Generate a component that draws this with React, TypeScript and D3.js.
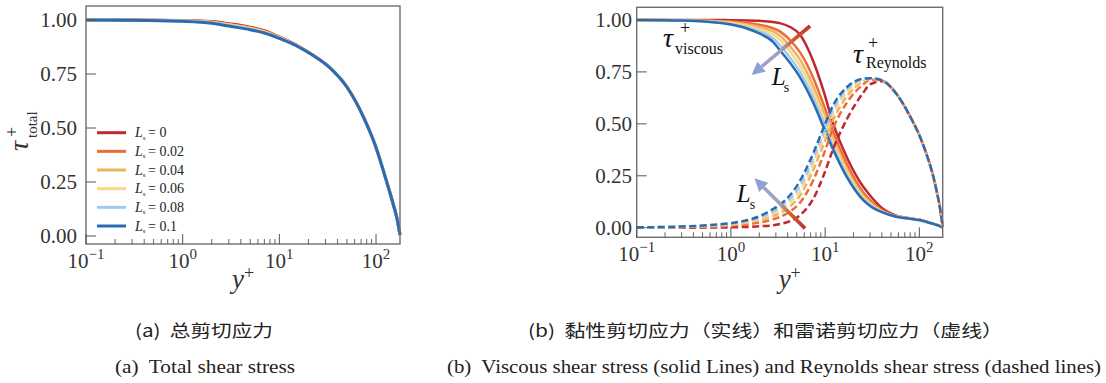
import * as d3 from 'd3';

const W = 1106;
const H = 383;

// slip length legend + colours (Ls = 0 ... 0.1)
const LS_LABELS = ['0', '0.02', '0.04', '0.06', '0.08', '0.1'];
const COLORS = ['#c0282f', '#f06a35', '#e8b660', '#fcd68a', '#9fcbf2', '#2b6cb0'];

// (a) total shear stress
const TOTAL_YPLUS = [0.1, 0.3, 1, 2, 3, 5, 7, 10, 15, 22, 33, 50, 74, 100, 128, 150, 165, 177];
const TOTAL_LS0 = [1.0, 1.0, 0.998, 0.993, 0.983, 0.967, 0.951, 0.922, 0.884, 0.839, 0.781, 0.69, 0.552, 0.41, 0.255, 0.15, 0.08, 0.005];
const TOTAL_LS002 = [1.0, 1.0, 0.997, 0.991, 0.981, 0.964, 0.948, 0.92, 0.883, 0.839, 0.781, 0.69, 0.552, 0.41, 0.255, 0.15, 0.08, 0.005];
const TOTAL_LS004 = [1.0, 0.999, 0.996, 0.99, 0.979, 0.962, 0.946, 0.919, 0.882, 0.838, 0.781, 0.69, 0.552, 0.41, 0.255, 0.15, 0.08, 0.005];
const TOTAL_LS006 = [1.0, 0.999, 0.996, 0.989, 0.977, 0.96, 0.944, 0.918, 0.882, 0.838, 0.781, 0.69, 0.552, 0.41, 0.255, 0.15, 0.08, 0.005];
const TOTAL_LS008 = [1.0, 0.999, 0.995, 0.987, 0.975, 0.958, 0.942, 0.916, 0.881, 0.838, 0.781, 0.69, 0.552, 0.41, 0.255, 0.15, 0.08, 0.005];
const TOTAL_LS01 = [1.0, 0.999, 0.994, 0.985, 0.972, 0.955, 0.94, 0.915, 0.881, 0.838, 0.781, 0.69, 0.552, 0.41, 0.255, 0.15, 0.08, 0.005];
const TOTAL_SERIES = [TOTAL_LS0, TOTAL_LS002, TOTAL_LS004, TOTAL_LS006, TOTAL_LS008, TOTAL_LS01];

// (b) viscous (solid) and Reynolds (dashed) shear stress
const B_YPLUS = [0.1, 0.3, 0.6, 1, 1.5, 2, 2.8, 3.3, 4.3, 5.4, 7.5, 9.6, 12.2, 16.9, 25.4, 30, 40, 57, 80, 100, 120, 140, 152, 165, 177];
const VISC_LS0 = [1.0, 1.0, 1.0, 0.999, 0.998, 0.996, 0.99, 0.985, 0.965, 0.93, 0.8, 0.66, 0.5, 0.342, 0.197, 0.155, 0.095, 0.058, 0.045, 0.038, 0.029, 0.02, 0.015, 0.009, 0.002];
const VISC_LS002 = [1.0, 0.999, 0.997, 0.993, 0.986, 0.977, 0.96, 0.945, 0.9, 0.845, 0.72, 0.595, 0.46, 0.31, 0.17, 0.133, 0.085, 0.056, 0.044, 0.038, 0.028, 0.019, 0.014, 0.008, 0.002];
const VISC_LS004 = [1.0, 0.999, 0.995, 0.989, 0.978, 0.966, 0.945, 0.925, 0.87, 0.81, 0.68, 0.56, 0.43, 0.285, 0.155, 0.122, 0.08, 0.055, 0.044, 0.037, 0.028, 0.019, 0.014, 0.008, 0.002];
const VISC_LS006 = [1.0, 0.998, 0.993, 0.985, 0.971, 0.955, 0.93, 0.905, 0.845, 0.78, 0.655, 0.535, 0.41, 0.27, 0.145, 0.115, 0.078, 0.054, 0.043, 0.037, 0.028, 0.019, 0.014, 0.008, 0.002];
const VISC_LS008 = [1.0, 0.998, 0.991, 0.981, 0.964, 0.945, 0.912, 0.88, 0.815, 0.75, 0.625, 0.508, 0.39, 0.256, 0.138, 0.11, 0.076, 0.053, 0.043, 0.037, 0.028, 0.019, 0.014, 0.008, 0.002];
const VISC_LS01 = [1.0, 0.997, 0.99, 0.978, 0.958, 0.935, 0.895, 0.855, 0.79, 0.725, 0.6, 0.486, 0.375, 0.246, 0.133, 0.105, 0.075, 0.053, 0.043, 0.037, 0.028, 0.019, 0.014, 0.008, 0.002];
const VISC_SERIES = [VISC_LS0, VISC_LS002, VISC_LS004, VISC_LS006, VISC_LS008, VISC_LS01];

const REY_LS0 = [0, 0, 0.001, 0.002, 0.004, 0.007, 0.012, 0.018, 0.033, 0.06, 0.14, 0.25, 0.38, 0.52, 0.65, 0.69, 0.705, 0.645, 0.535, 0.445, 0.35, 0.25, 0.18, 0.1, 0.005];
const REY_LS002 = [0.001, 0.002, 0.005, 0.009, 0.016, 0.025, 0.04, 0.052, 0.08, 0.12, 0.23, 0.35, 0.48, 0.6, 0.69, 0.712, 0.708, 0.645, 0.535, 0.445, 0.35, 0.25, 0.18, 0.1, 0.005];
const REY_LS004 = [0.001, 0.004, 0.008, 0.014, 0.024, 0.036, 0.056, 0.07, 0.105, 0.155, 0.28, 0.4, 0.52, 0.63, 0.705, 0.716, 0.709, 0.645, 0.535, 0.445, 0.35, 0.25, 0.18, 0.1, 0.005];
const REY_LS006 = [0.002, 0.004, 0.01, 0.017, 0.029, 0.043, 0.067, 0.083, 0.125, 0.18, 0.31, 0.43, 0.55, 0.65, 0.71, 0.718, 0.71, 0.645, 0.535, 0.445, 0.35, 0.25, 0.18, 0.1, 0.005];
const REY_LS008 = [0.002, 0.005, 0.011, 0.02, 0.033, 0.049, 0.078, 0.097, 0.143, 0.2, 0.335, 0.455, 0.57, 0.665, 0.715, 0.72, 0.71, 0.645, 0.535, 0.445, 0.35, 0.25, 0.18, 0.1, 0.005];
const REY_LS01 = [0.002, 0.006, 0.013, 0.022, 0.037, 0.055, 0.09, 0.11, 0.16, 0.225, 0.36, 0.48, 0.59, 0.675, 0.718, 0.72, 0.71, 0.645, 0.535, 0.445, 0.35, 0.25, 0.18, 0.1, 0.005];
const REY_SERIES = [REY_LS0, REY_LS002, REY_LS004, REY_LS006, REY_LS008, REY_LS01];

const Y_TICKS = [0, 0.25, 0.5, 0.75, 1];
const X_MAJOR = [0.1, 1, 10, 100];
const X_EXP = ['\u22121', '0', '1', '2'];

const SERIF = '"Liberation Serif", "Times New Roman", serif';
const CJK = '"Noto Sans CJK SC", sans-serif';

const X_DOMAIN: [number, number] = [0.1, 177];

const minorTicks = X_MAJOR.flatMap(d => d3.range(2, 10).map(k => d * k)).filter(v => v < X_DOMAIN[1]);

type Scale = (v: number) => number;

function Frame({ x, y, left, right, top, bottom, labelX }: {
  x: Scale; y: Scale; left: number; right: number; top: number; bottom: number; labelX: number;
}) {
  return (
    <g>
      <rect x={left} y={top} width={right - left} height={bottom - top} fill="none" stroke="#6e6e6e" strokeWidth={1.4} />
      {Y_TICKS.map(t => (
        <g key={'y' + t}>
          <line x1={left} x2={left + 10} y1={y(t)} y2={y(t)} stroke="#555" strokeWidth={1} />
          <text x={labelX} y={y(t)} dy="0.35em" textAnchor="end" fontFamily={SERIF} fontSize={21} fill="#333">
            {t.toFixed(2)}
          </text>
        </g>
      ))}
      {X_MAJOR.map((t, i) => (
        <g key={'x' + t}>
          <line x1={x(t)} x2={x(t)} y1={bottom} y2={bottom - 10} stroke="#555" strokeWidth={1} />
          <text x={x(t)} y={bottom + 24} textAnchor="middle" fontFamily={SERIF} fontSize={21} fill="#333">
            10<tspan dy={-9} fontSize={15}>{X_EXP[i]}</tspan>
          </text>
        </g>
      ))}
      {minorTicks.map(t => (
        <line key={'m' + t} x1={x(t)} x2={x(t)} y1={bottom} y2={bottom - 5} stroke="#555" strokeWidth={0.9} />
      ))}
      <text x={(left + right) / 2} y={288} textAnchor="middle" fontFamily={SERIF} fontSize={27} fill="#333">
        <tspan fontStyle="italic">y</tspan>
        <tspan dy={-9} fontSize={18}>+</tspan>
      </text>
    </g>
  );
}

function Arrow({ x, y, from, to, id }: { x: Scale; y: Scale; from: number[]; to: number[]; id: string }) {
  const x1 = x(from[0]), y1 = y(from[1]);
  const x2 = x(to[0]), y2 = y(to[1]);
  const len = Math.hypot(x2 - x1, y2 - y1);
  const ux = (x2 - x1) / len, uy = (y2 - y1) / len;
  const hl = 13, hw = 6.5;
  const bx = x2 - ux * hl, by = y2 - uy * hl;
  const head = `M${x2},${y2}L${bx - uy * hw},${by + ux * hw}L${bx + uy * hw},${by - ux * hw}Z`;
  return (
    <g>
      <defs>
        <linearGradient id={id} gradientUnits="userSpaceOnUse" x1={x1} y1={y1} x2={x2} y2={y2}>
          <stop offset="0" stopColor="#c2302a" />
          <stop offset="0.3" stopColor="#d4602c" />
          <stop offset="0.5" stopColor="#a3a3c0" />
          <stop offset="1" stopColor="#8fa1d4" />
        </linearGradient>
      </defs>
      <line x1={x1} y1={y1} x2={bx} y2={by} stroke={`url(#${id})`} strokeWidth={3.6} />
      <path d={head} fill="#8fa1d4" />
    </g>
  );
}

function Label({ x, y, at, sub, subDx, subDy, supDx, supDy, size = 28, subSize = 15 }: {
  x: Scale; y: Scale; at: number[]; sub: string; subDx: number; subDy: number;
  supDx?: number; supDy?: number; size?: number; subSize?: number;
}) {
  const px = x(at[0]), py = y(at[1]);
  return (
    <g fontFamily={SERIF} fill="#111">
      <text x={px} y={py} fontSize={size} fontStyle="italic">{sub === 's' ? 'L' : '\u03c4'}</text>
      {supDx !== undefined && (
        <text x={px + supDx} y={py + (supDy || 0)} fontSize={18}>+</text>
      )}
      <text x={px + subDx} y={py + subDy} fontSize={subSize}>{sub}</text>
    </g>
  );
}

export default function App() {
  // panel (a)
  const xA = d3.scaleLog().domain(X_DOMAIN).range([86, 400]);
  const yA = d3.scaleLinear().domain([-0.037, 1.065]).range([244, 6]);
  // panel (b)
  const xB = d3.scaleLog().domain(X_DOMAIN).range([636.7, 942.7]);
  const yB = d3.scaleLinear().domain([-0.046, 1.061]).range([237.3, 7.3]);

  const lineA = d3.line<number>().x((_, i) => xA(TOTAL_YPLUS[i])).y(d => yA(d)).curve(d3.curveMonotoneX);
  const lineB = d3.line<number>().x((_, i) => xB(B_YPLUS[i])).y(d => yB(d)).curve(d3.curveMonotoneX);

  return (
    <div style={{ position: 'absolute', left: 0, top: 0, background: '#fff' }}>
      <svg width={W} height={H} style={{ display: 'block' }}>
        <rect width={W} height={H} fill="#fff" />

        {/* (a) total shear stress */}
        <g>
          {TOTAL_SERIES.map((s, i) => (
            <path key={i} d={lineA(s) || ''} fill="none" stroke={COLORS[i]} strokeWidth={3} />
          ))}
          <Frame x={xA} y={yA} left={86} right={400} top={6} bottom={244} labelX={77} />
          {LS_LABELS.map((lab, i) => {
            const ry = 132.7 + i * 18.66;
            return (
              <g key={lab}>
                <line x1={97} x2={126} y1={ry} y2={ry} stroke={COLORS[i]} strokeWidth={3} />
                <text x={135} y={ry + 4.6} fontFamily={SERIF} fontSize={14} fill="#222">
                  <tspan fontStyle="italic">L</tspan>
                  <tspan fontSize={7} dy={2.5}>s</tspan>
                  <tspan x={148} dy={-2.5}>= {lab}</tspan>
                </text>
              </g>
            );
          })}
          <text transform="translate(28,151) rotate(-90)" fontFamily={SERIF} fill="#333">
            <tspan fontSize={28} fontStyle="italic">{'\u03c4'}</tspan>
            <tspan x={14} dy={-10} fontSize={18}>+</tspan>
            <tspan x={13} dy={19} fontSize={15}>total</tspan>
          </text>
        </g>

        {/* (b) viscous + Reynolds shear stress */}
        <g>
          {VISC_SERIES.map((s, i) => (
            <path key={'v' + i} d={lineB(s) || ''} fill="none" stroke={COLORS[i]} strokeWidth={2.5} />
          ))}
          {REY_SERIES.map((s, i) => (
            <path key={'r' + i} d={lineB(s) || ''} fill="none" stroke={COLORS[i]} strokeWidth={2.5} strokeDasharray="7,3.5" />
          ))}
          <Frame x={xB} y={yB} left={636.7} right={942.7} top={7.3} bottom={237.3} labelX={632} />
          <Arrow x={xB} y={yB} from={[6.92, 0.971]} to={[1.66, 0.735]} id="arrTop" />
          <Arrow x={xB} y={yB} from={[6.12, -0.003]} to={[1.78, 0.238]} id="arrBot" />
          <Label x={xB} y={yB} at={[0.19, 0.87]} sub="viscous" subDx={12} subDy={7} supDx={17} supDy={-13} subSize={16} />
          <Label x={xB} y={yB} at={[19.8, 0.793]} sub="Reynolds" subDx={13} subDy={5} supDx={15} supDy={-14} subSize={16} />
          <Label x={xB} y={yB} at={[2.71, 0.687]} sub="s" subDx={12} subDy={7} size={25} subSize={14} />
          <Label x={xB} y={yB} at={[1.15, 0.125]} sub="s" subDx={13} subDy={7} size={25} subSize={14} />
        </g>

        {/* captions */}
        <g fill="#222">
          <text x={135} y={337} fontFamily={CJK} fontSize={17} textLength={138} lengthAdjust="spacingAndGlyphs" style={{ whiteSpace: 'pre' }}>(a)  总剪切应力</text>
          <text x={528} y={337} fontFamily={CJK} fontSize={17} textLength={475} lengthAdjust="spacingAndGlyphs" style={{ whiteSpace: 'pre' }}>(b)  黏性剪切应力（实线）和雷诺剪切应力（虚线）</text>
          <text x={115} y={373} fontFamily={SERIF} fontSize={18} textLength={180} lengthAdjust="spacingAndGlyphs" style={{ whiteSpace: 'pre' }}>(a)  Total shear stress</text>
          <text x={447} y={373} fontFamily={SERIF} fontSize={18} textLength={654} lengthAdjust="spacingAndGlyphs" style={{ whiteSpace: 'pre' }}>(b)  Viscous shear stress (solid Lines) and Reynolds shear stress (dashed lines)</text>
        </g>
      </svg>
    </div>
  );
}
